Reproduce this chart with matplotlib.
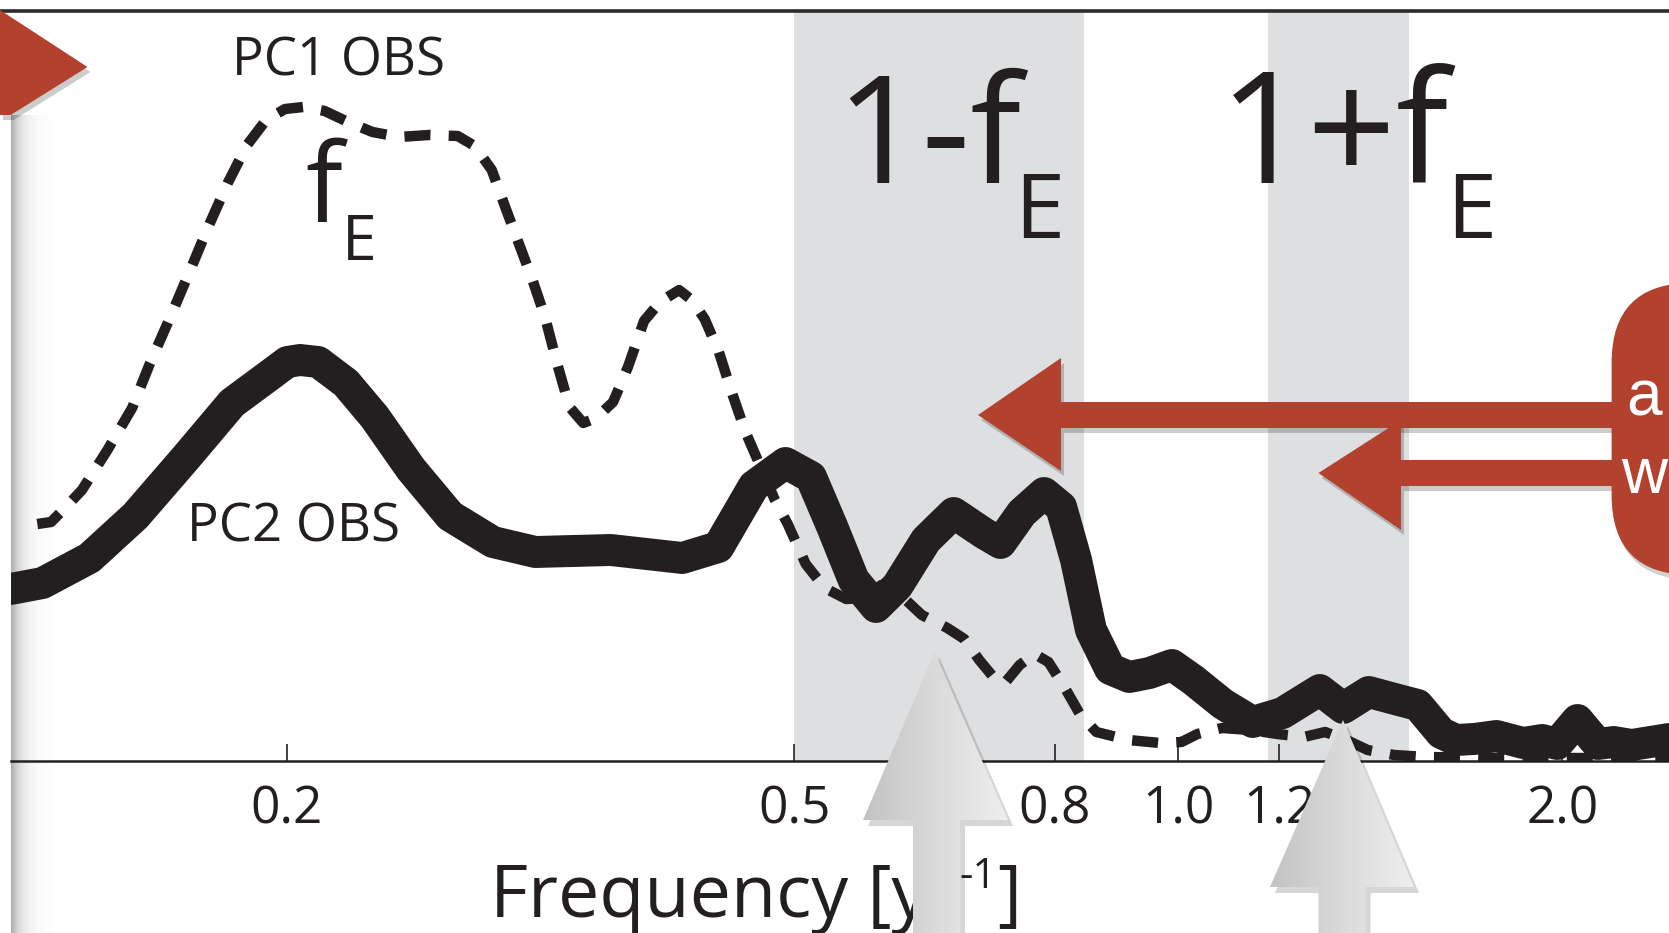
import numpy as np
import matplotlib
matplotlib.use("Agg")
import matplotlib.pyplot as plt
from matplotlib.patches import Polygon, FancyBboxPatch
from matplotlib.colors import LinearSegmentedColormap
from matplotlib.ticker import NullLocator

# ---------------- data ----------------
freq_pc2 = [0.1215, 0.1287, 0.1401, 0.1522, 0.1669, 0.1812, 0.1945, 0.2002, 0.2049, 0.2117,
            0.2226, 0.2344, 0.2503, 0.2687, 0.2902, 0.3133, 0.3590, 0.4085, 0.4360, 0.4648,
            0.4921, 0.5153, 0.5355, 0.5566, 0.5795, 0.6022, 0.6342, 0.6667, 0.7035, 0.7255,
            0.7539, 0.7849, 0.8094, 0.8315, 0.8542, 0.8843, 0.9154, 0.9494, 0.9885, 1.0273,
            1.0840, 1.1439, 1.2072, 1.2910, 1.3468, 1.4104, 1.4883, 1.5407, 1.6072, 1.6511,
            1.7059, 1.7762, 1.8636, 1.9291, 1.9817, 2.0557, 2.1321, 2.1944, 2.2672, 2.4252]
power_pc2 = [1.72, 1.78, 2.03, 2.45, 3.04, 3.58, 3.87, 3.99, 4.01, 3.99,
             3.78, 3.44, 2.92, 2.45, 2.19, 2.09, 2.11, 2.03, 2.14, 2.75,
             2.98, 2.84, 2.34, 1.81, 1.54, 1.75, 2.21, 2.48, 2.28, 2.18,
             2.48, 2.68, 2.54, 2.01, 1.31, 0.92, 0.84, 0.88, 0.96, 0.81,
             0.57, 0.39, 0.48, 0.71, 0.53, 0.69, 0.61, 0.56, 0.28, 0.21,
             0.22, 0.25, 0.18, 0.21, 0.17, 0.41, 0.17, 0.19, 0.16, 0.22]

freq_pc1 = [0.1275, 0.1307, 0.1338, 0.1382, 0.1447, 0.1513, 0.1563, 0.1621, 0.1678, 0.1737,
            0.1798, 0.1862, 0.1927, 0.1994, 0.2061, 0.2142, 0.2234, 0.2335, 0.2450, 0.2586,
            0.2723, 0.2808, 0.2896, 0.2969, 0.3044, 0.3115, 0.3188, 0.3256, 0.3332, 0.3416,
            0.3496, 0.3605, 0.3703, 0.3812, 0.3923, 0.4061, 0.4156, 0.4253, 0.4361, 0.4471,
            0.4575, 0.4709, 0.4828, 0.4941, 0.5104, 0.5283, 0.5491, 0.5673, 0.5850, 0.6045,
            0.6294, 0.6591, 0.6796, 0.6982, 0.7172, 0.7311, 0.7510, 0.7715, 0.7910, 0.8142,
            0.8380, 0.8625, 0.9137, 0.9678, 1.0058, 1.0352, 1.0819, 1.1396, 1.1958, 1.2544,
            1.3035, 1.3547, 1.4077, 1.4769, 1.5645, 1.8247, 2.4252]
power_pc1 = [2.37, 2.39, 2.52, 2.71, 3.11, 3.53, 3.98, 4.44, 4.89, 5.35,
             5.78, 6.16, 6.41, 6.52, 6.54, 6.50, 6.39, 6.29, 6.24, 6.26,
             6.25, 6.15, 5.91, 5.53, 5.16, 4.82, 4.44, 3.99, 3.54, 3.38,
             3.43, 3.59, 3.94, 4.40, 4.59, 4.71, 4.61, 4.42, 4.10, 3.67,
             3.30, 2.93, 2.61, 2.37, 1.97, 1.73, 1.62, 1.63, 1.76, 1.67,
             1.46, 1.33, 1.22, 1.01, 0.83, 0.78, 0.96, 1.07, 0.99, 0.74,
             0.46, 0.29, 0.21, 0.18, 0.19, 0.27, 0.33, 0.31, 0.27, 0.24,
             0.29, 0.21, 0.11, 0.06, 0.04, 0.03, 0.03]

band_lo = [0.50, 1.175]
band_hi = [0.843, 1.516]

tick_vals = [0.2, 0.5, 0.8, 1.0, 1.2, 2.0]
tick_labels = ["0.2", "0.5", "0.8", "1.0", "1.2", "2.0"]

# ---------------- style ----------------
W, H = 1669, 933
FONT = "Open Sans"
INK = "#231f20"
BAND = "#dedfe1"
RED = "#b2422e"

fig = plt.figure(figsize=(W / 100, H / 100), dpi=100)
fig.patch.set_facecolor("white")

# underlay (shadow strip at the left edge)
ax_u = fig.add_axes([0, 0, 1, 1], zorder=0)
ax_u.axis("off")
N = 200
t = np.linspace(0, 1, N)
rgba = np.zeros((1, N, 4))
rgba[..., :3] = 0.30
rgba[0, :, 3] = 0.48 * np.exp(-t * 4.2)
ax_u.imshow(rgba, extent=[10.6, 52, H, 115], aspect="auto", interpolation="bilinear")
ax_u.set_xlim(0, W)
ax_u.set_ylim(H, 0)

# main axes
ax = fig.add_axes([10.6 / W, (H - 761) / H, 1 - 10.6 / W, 750 / H], zorder=1)
ax.set_facecolor("none")
ax.set_xscale("log")
for lo, hi in zip(band_lo, band_hi):
    ax.axvspan(lo, hi, color=BAND, lw=0, zorder=0)

ax.plot(freq_pc2, power_pc2, color=INK, lw=23, solid_joinstyle="round",
        solid_capstyle="round", zorder=2)
ax.plot(freq_pc1, power_pc1, color=INK, lw=7.5, linestyle=(0, (2.5, 1.75)),
        dash_joinstyle="round", dash_capstyle="butt", zorder=3)

ax.set_xlim(0.1215, 2.425)
ax.set_ylim(0, 7.5)
ax.set_xticks(tick_vals)
ax.set_xticklabels(tick_labels)
ax.xaxis.set_minor_locator(NullLocator())
ax.set_yticks([])
ax.tick_params(axis="x", direction="in", length=12, width=1.2, pad=17,
               labelsize=37, colors=INK)
for lab in ax.get_xticklabels():
    lab.set_fontfamily(FONT)
for s in ["left", "right", "top"]:
    ax.spines[s].set_visible(False)
ax.spines["bottom"].set_linewidth(1.8)
ax.spines["bottom"].set_color(INK)

# overlay (annotations in pixel coordinates)
ax_o = fig.add_axes([0, 0, 1, 1], zorder=3)
ax_o.axis("off")
ax_o.set_xlim(0, W)
ax_o.set_ylim(H, 0)

# top frame line
ax_o.plot([0, W], [11, 11], color="#2b2b2b", lw=2.6, solid_capstyle="butt")


def shadowed(verts, color, off=(3, 5), alpha=0.2, z=5):
    sv = [(x + off[0], y + off[1]) for x, y in verts]
    ax_o.add_patch(Polygon(sv, closed=True, facecolor="black", alpha=alpha, lw=0, zorder=z - 0.5))
    ax_o.add_patch(Polygon(verts, closed=True, facecolor=color, lw=0, zorder=z))


def gradient_polygon(verts, colors, z=6):
    sv = [(x + 5, y + 6) for x, y in verts]
    ax_o.add_patch(Polygon(sv, closed=True, facecolor="black", alpha=0.16, lw=0, zorder=z - 0.5))
    poly = Polygon(verts, closed=True, facecolor="none", edgecolor="none", zorder=z)
    ax_o.add_patch(poly)
    xs = [v[0] for v in verts]
    ys = [v[1] for v in verts]
    cmap = LinearSegmentedColormap.from_list("g", colors)
    grad = np.linspace(0, 1, 256)[None, :]
    im = ax_o.imshow(grad, cmap=cmap, extent=[min(xs), max(xs), max(ys), min(ys)],
                     aspect="auto", interpolation="bilinear", zorder=z)
    im.set_clip_path(poly)


# red play-triangle at top-left
shadowed([(0, 10), (87.5, 67), (10.7, 115), (0, 115)], RED)

# red arrows
shadowed([(978, 415), (1061, 358), (1061, 402), (1700, 402), (1700, 428),
          (1061, 428), (1061, 471)], RED)
shadowed([(1318.5, 473), (1401, 420), (1401, 460), (1700, 460), (1700, 486),
          (1401, 486), (1401, 530)], RED)

# red rounded box
ax_o.add_patch(FancyBboxPatch((1614, 288), 200, 292, boxstyle="round,pad=0,rounding_size=80",
                              facecolor="black", alpha=0.18, lw=0, zorder=4.5))
ax_o.add_patch(FancyBboxPatch((1611.6, 283), 200, 292, boxstyle="round,pad=0,rounding_size=80",
                              facecolor=RED, lw=0, zorder=5))
ax_o.text(1626, 415, "a", fontsize=46, family="Liberation Sans", color="white",
          va="baseline", ha="left", zorder=6)
ax_o.text(1621, 493, "w", fontsize=46, family="Liberation Sans", color="white",
          va="baseline", ha="left", zorder=6)

# gray upward arrows
gradient_polygon([(934.6, 652), (1008, 820), (960, 820), (960, 945), (913, 945),
                  (913, 820), (863, 820)], ["#c2c2c2", "#dadada", "#efefef"])
gradient_polygon([(1343, 720), (1414, 887), (1365.5, 887), (1365.5, 945), (1318.5, 945),
                  (1318.5, 887), (1270, 887)], ["#c2c2c2", "#dadada", "#efefef"])

# curve labels
ax_o.text(338, 75, "PC1 OBS", fontsize=38, family=FONT, color=INK, ha="center", va="baseline", zorder=2)
ax_o.text(293, 542, "PC2 OBS", fontsize=38, family=FONT, color=INK, ha="center", va="baseline", zorder=2)
ax_o.text(305, 222, "f", fontsize=79, family=FONT, color=INK, ha="left", va="baseline", zorder=2)
ax_o.text(342, 260, "E", fontsize=45, family=FONT, color=INK, ha="left", va="baseline", zorder=2)

# band labels
ax_o.text(928, 183, "1-f", fontsize=109, family=FONT, color=INK, ha="center", va="baseline", zorder=2)
ax_o.text(1014, 238, "E", fontsize=65, family=FONT, color=INK, ha="left", va="baseline", zorder=2)
ax_o.text(1334, 183, "1+f", fontsize=112, family=FONT, color=INK, ha="center", va="baseline", zorder=2)
ax_o.text(1446, 238, "E", fontsize=65, family=FONT, color=INK, ha="left", va="baseline", zorder=2)

# x-axis label: Frequency [yr^-1]
renderer = fig.canvas.get_renderer()
t1 = ax_o.text(490, 917, "Frequency [yr", fontsize=53, family=FONT, color=INK,
               ha="left", va="baseline", zorder=2)
bb = t1.get_window_extent(renderer)
x_end = ax_o.transData.inverted().transform((bb.x1, bb.y0))[0]
t2 = ax_o.text(x_end + 1, 888, "-1", fontsize=30, family=FONT, color=INK,
               ha="left", va="baseline", zorder=2)
bb2 = t2.get_window_extent(renderer)
x_end2 = ax_o.transData.inverted().transform((bb2.x1, bb2.y0))[0]
ax_o.text(x_end2 + 1, 917, "]", fontsize=53, family=FONT, color=INK,
          ha="left", va="baseline", zorder=2)

ax_o.set_xlim(0, W)
ax_o.set_ylim(H, 0)

fig.savefig("out.png", dpi=100, facecolor="white")
